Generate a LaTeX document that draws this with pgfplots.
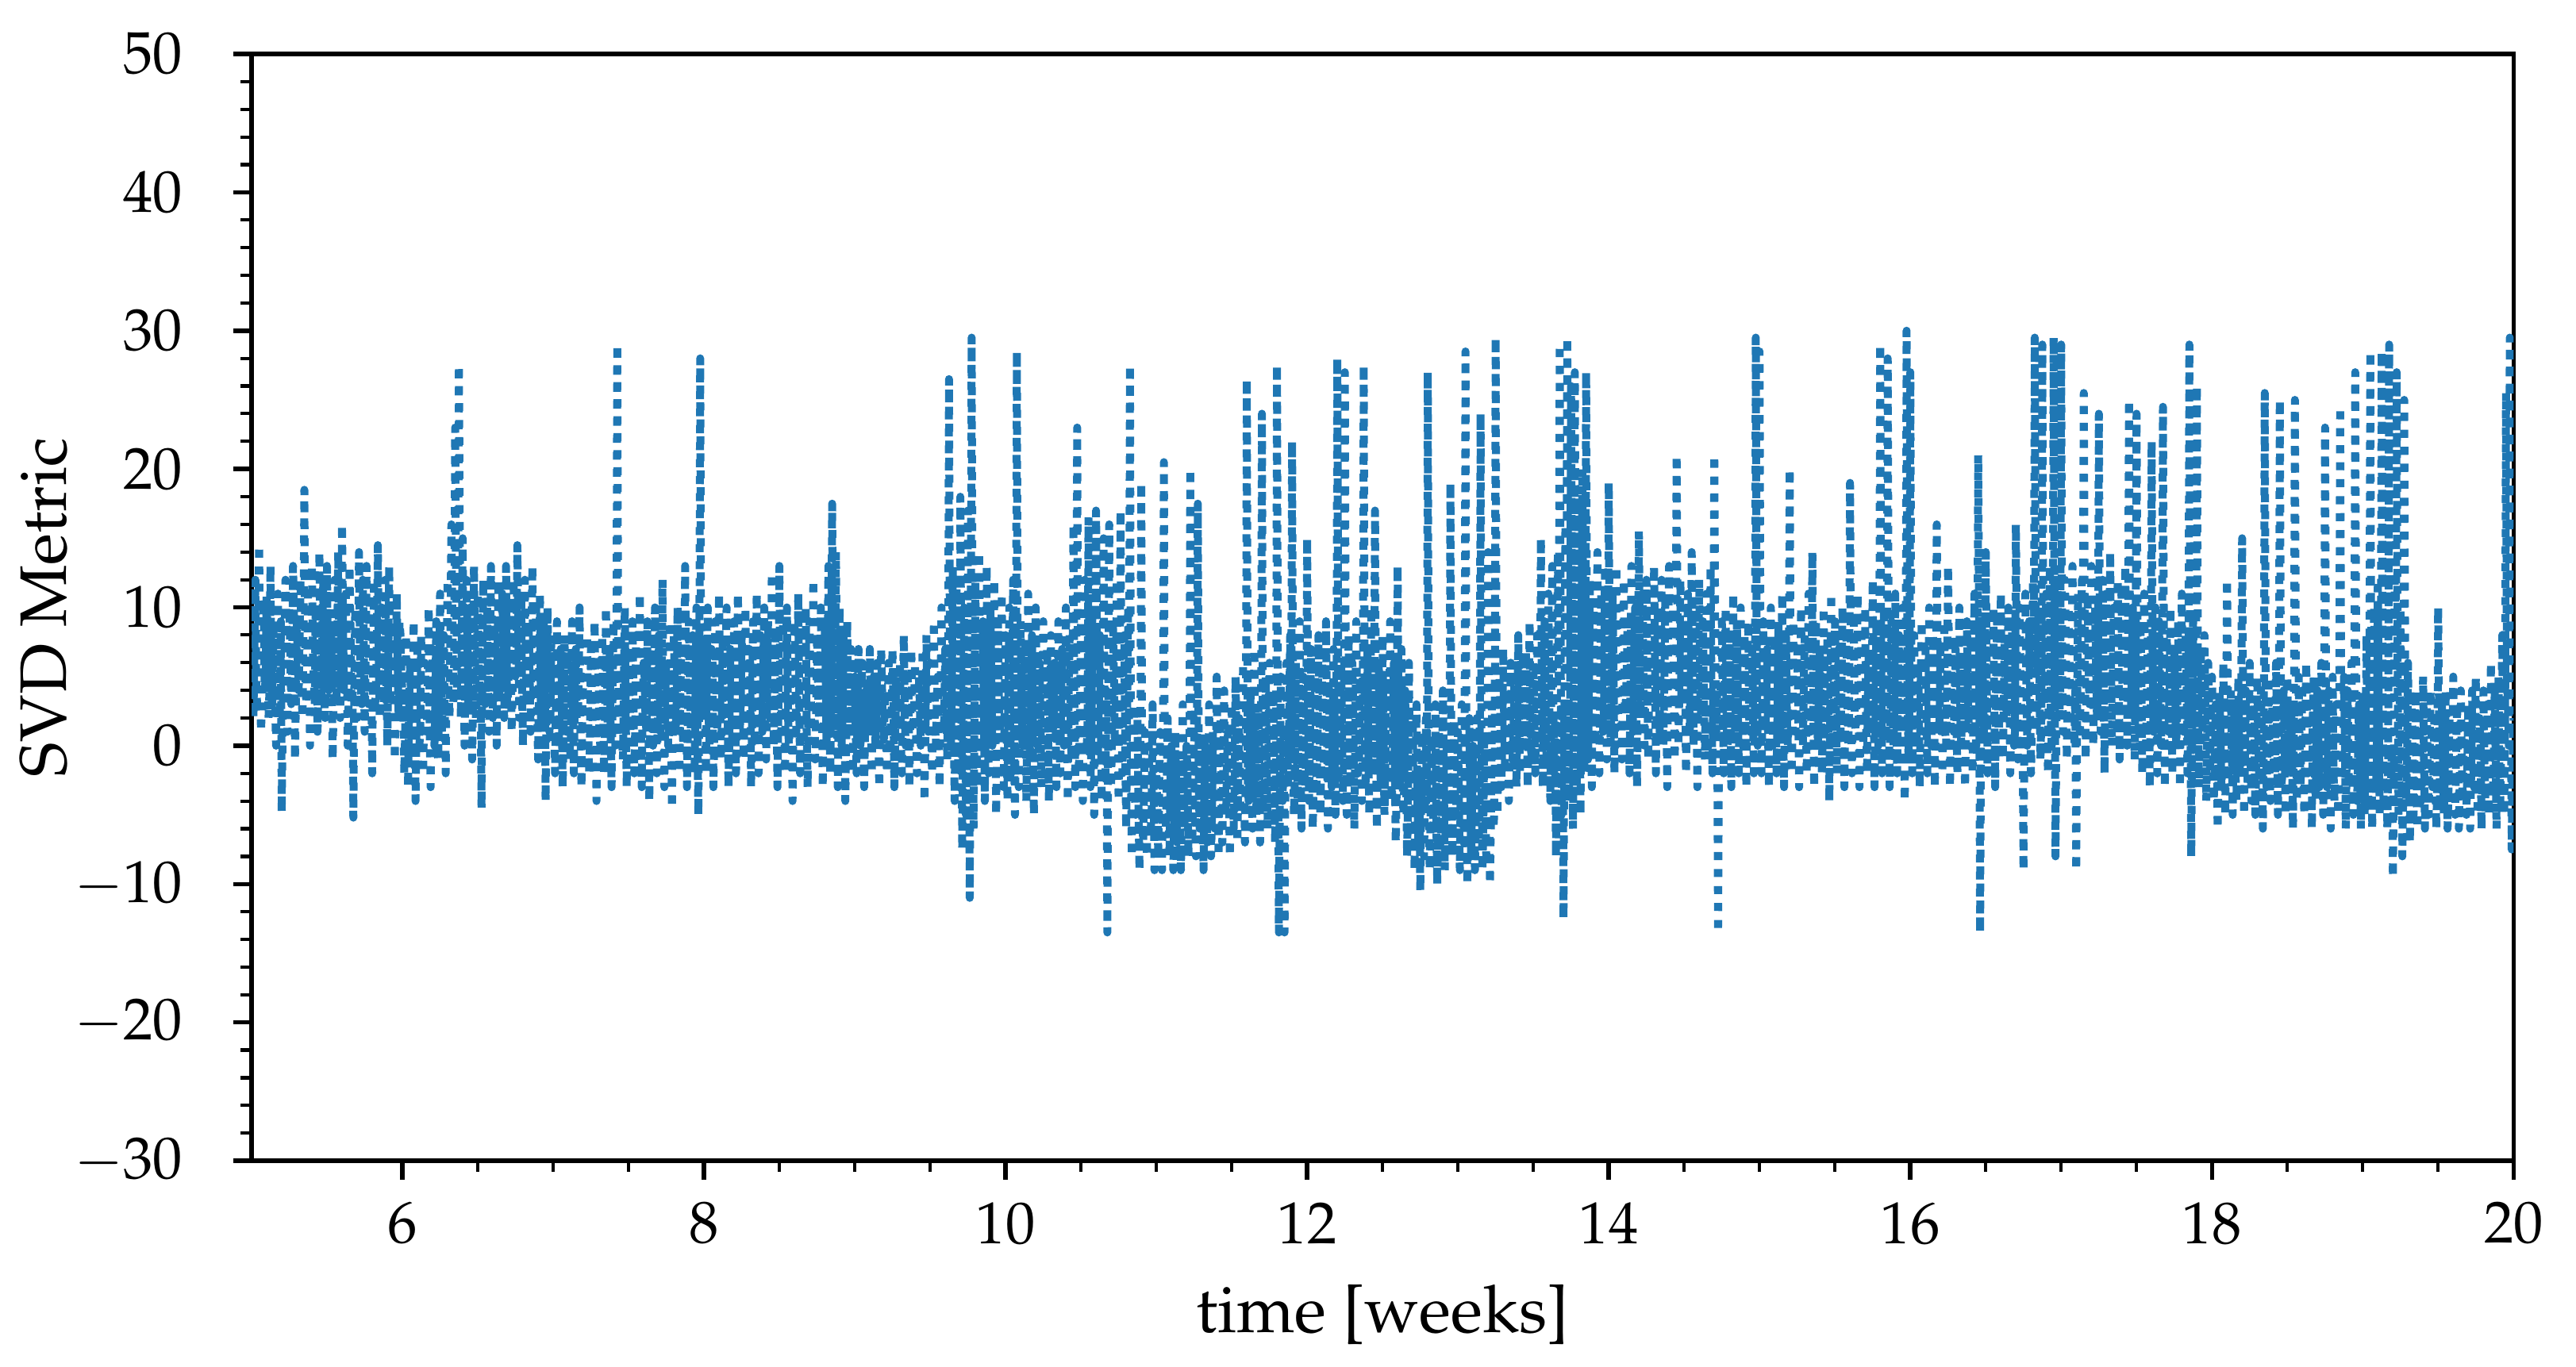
\documentclass[border=0pt]{standalone}
\usepackage[T1]{fontenc}
\usepackage{mathpazo}
\usepackage{pgfplots}
\usepackage{pgfplotstable}
\pgfplotsset{compat=1.18}
\definecolor{mplblue}{HTML}{1F77B4}
% SVD metric, one value every 0.00625 weeks from week 5 to week 20
\pgfplotstableread[row sep=\\]{
y\\
8\\ 5\\ 2\\ 7\\ 12\\ 4\\ 3\\ 8\\ 14.5\\ 6\\ 1\\ 3\\ 10\\ 9\\ 4\\ 5\\ 11\\ 7\\ 2\\ 4\\
13\\ 6\\ 3\\ 8\\ 9\\ 3\\ 0\\ 7\\ 11\\ 5\\ 2\\ 9\\ -4.8\\ 2\\ 6\\ 6\\ 12\\ 8\\ 1\\ 4\\
10\\ 7\\ 3\\ 5\\ 13\\ 9\\ -1\\ 3\\ 9\\ 6\\ 4\\ 8\\ 12\\ 4\\ 2\\ 7\\ 18.5\\ 5\\ 3\\ 6\\
11\\ 8\\ 0\\ 4\\ 13\\ 7\\ 5\\ 3\\ 10\\ 9\\ 1\\ 5\\ 14\\ 6\\ 3\\ 8\\ 12\\ 4\\ 2\\ 7\\
13\\ 5\\ 4\\ 9\\ 9\\ 6\\ -1\\ 3\\ 12\\ 7\\ 3\\ 8\\ 14\\ 4\\ 2\\ 6\\ 16\\ 9\\ 4\\ 5\\
11\\ 7\\ 0\\ 3\\ 13\\ 8\\ 3\\ 6\\ -5.2\\ 4\\ 10\\ 9\\ 2\\ 5\\ 14\\ 7\\ 4\\ 3\\ 12\\ 8\\
1\\ 6\\ 13\\ 4\\ 3\\ 9\\ 11\\ 5\\ -2\\ 7\\ 12\\ 3\\ 4\\ 8\\ 14.5\\ 6\\ 2\\ 4\\ 10\\ 7\\
3\\ 9\\ 12\\ 5\\ 0\\ 6\\ 13\\ 3\\ 5\\ 8\\ 9\\ 7\\ -1\\ 4\\ 11\\ 6\\ 2\\ 9\\ 8\\ 5\\
4\\ 3\\ -2\\ 1\\ 8\\ 5\\ -3\\ 2\\ 6\\ 4\\ -1\\ 0\\ 9\\ 3\\ -4\\ 2\\ 7\\ 5\\ 0\\ 1\\
8\\ 4\\ -2\\ 2\\ 6\\ 3\\ 1\\ 5\\ 10\\ 1\\ -3\\ 4\\ 7\\ 2\\ 0\\ 3\\ 9\\ 0\\ -1\\ 4\\
11\\ 5\\ 1\\ 6\\ 8\\ 3\\ -2\\ 7\\ 12\\ 4\\ 2\\ 8\\ 16\\ 10\\ 3\\ 6\\ 23\\ 12\\ 4\\ 9\\
27.5\\ 14\\ 2\\ 7\\ 15\\ 5\\ 0\\ 6\\ 12\\ 8\\ 3\\ 4\\ 10\\ 6\\ -1\\ 3\\ 13\\ 7\\ 2\\ 5\\
11\\ 6\\ 4\\ 4\\ -4.5\\ 8\\ 12\\ 5\\ 3\\ 7\\ 10\\ 3\\ 1\\ 6\\ 13\\ 8\\ 2\\ 4\\ 9\\ 5\\
0\\ 7\\ 12\\ 4\\ 4\\ 6\\ 11\\ 8\\ 2\\ 5\\ 13\\ 3\\ 3\\ 7\\ 10\\ 6\\ 1\\ 4\\ 12\\ 8\\
5\\ 6\\ 14.5\\ 9\\ 2\\ 5\\ 11\\ 4\\ 0\\ 7\\ 12\\ 6\\ 3\\ 3\\ 9\\ 5\\ 1\\ 8\\ 13\\ 4\\
4\\ 6\\ 10\\ 3\\ -1\\ 5\\ 11\\ 2\\ 2\\ 4\\ 9\\ 6\\ -4\\ 3\\ 10\\ 5\\ 1\\ 2\\ 8\\ 4\\
6\\ 2\\ -2\\ 4\\ 9\\ 1\\ 0\\ 3\\ 7\\ 5\\ -3\\ 0\\ 8\\ 3\\ 1\\ 4\\ 6\\ 2\\ -1\\ 1\\
9\\ 3\\ -2\\ 5\\ 7\\ 2\\ 2\\ 4\\ 10\\ 1\\ -3\\ 3\\ 5\\ 2\\ 0\\ 4\\ 8\\ 3\\ -2\\ 0\\
7\\ 4\\ 1\\ 2\\ 9\\ 3\\ -4\\ 5\\ 6\\ 1\\ 0\\ 3\\ 8\\ 4\\ -2\\ 2\\ 10\\ 5\\ 1\\ 3\\
7\\ 1\\ -3\\ 4\\ 9\\ 3\\ 0\\ 2\\ 29\\ 5\\ 2\\ 3\\ 8\\ 1\\ -1\\ 4\\ 10\\ 2\\ -3\\ 3\\
7\\ 4\\ 1\\ 2\\ 9\\ 5\\ -2\\ 1\\ 8\\ 3\\ 0\\ 4\\ 11\\ 2\\ -3\\ 3\\ 6\\ 5\\ 2\\ 1\\
9\\ 2\\ -4\\ 4\\ 7\\ 3\\ 0\\ 1\\ 10\\ 5\\ -2\\ 2\\ 8\\ 4\\ 1\\ 3\\ 12\\ 2\\ -3\\ 4\\
6\\ 3\\ 0\\ 1\\ 9\\ 4\\ -4.5\\ 2\\ 8\\ 5\\ 1\\ 3\\ 10\\ 1\\ -2\\ 4\\ 7\\ 2\\ 0\\ 3\\
13\\ 4\\ -3\\ 2\\ 9\\ 5\\ 1\\ 3\\ 8\\ 1\\ -2\\ 4\\ 10\\ 2\\ -5\\ 3\\ 28\\ 6\\ 2\\ 3\\
8\\ 3\\ -2\\ 5\\ 10\\ 2\\ 0\\ 4\\ 7\\ 6\\ -3\\ 1\\ 9\\ 4\\ 1\\ 3\\ 11\\ 5\\ -1\\ 2\\
8\\ 4\\ 2\\ 6\\ 10\\ 3\\ -3\\ 1\\ 7\\ 5\\ 0\\ 3\\ 9\\ 2\\ -2\\ 4\\ 11\\ 6\\ 1\\ 3\\
8\\ 5\\ -1\\ 2\\ 10\\ 4\\ 2\\ 3\\ 7\\ 6\\ -3\\ 1\\ 9\\ 3\\ 0\\ 5\\ 11\\ 2\\ -2\\ 4\\
8\\ 3\\ 1\\ 6\\ 10\\ 2\\ -1\\ 4\\ 9\\ 5\\ 2\\ 3\\ 12.5\\ 7\\ 0\\ 4\\ 8\\ 2\\ -3\\ 3\\
13\\ 5\\ 1\\ 4\\ 9\\ 2\\ -2\\ 6\\ 10\\ 3\\ 0\\ 1\\ 7\\ 4\\ -4\\ 2\\ 9\\ 5\\ 1\\ 3\\
11\\ 4\\ -2\\ 2\\ 8\\ 6\\ 0\\ 3\\ 10\\ 1\\ -3\\ 4\\ 9\\ 5\\ 1\\ 3\\ 12\\ 6\\ -1\\ 2\\
8\\ 4\\ 2\\ 3\\ 10\\ 5\\ -3\\ 2\\ 9\\ 6\\ 0\\ 4\\ 13\\ 3\\ -2\\ 5\\ 17.5\\ 8\\ 1\\ 4\\
14\\ 6\\ -3\\ 3\\ 10\\ 4\\ 0\\ 2\\ 8\\ 5\\ -4\\ 1\\ 9\\ 3\\ 1\\ 4\\ 7\\ 2\\ -2\\ 3\\
5\\ 1\\ -2\\ 3\\ 7\\ 2\\ 0\\ 4\\ 6\\ 0\\ -3\\ 2\\ 4\\ 3\\ 1\\ 1\\ 7\\ 2\\ -2\\ 4\\
5\\ 2\\ 0\\ 3\\ 6\\ 1\\ -3\\ 2\\ 7\\ 4\\ 1\\ 0\\ 4\\ 2\\ -2\\ 3\\ 6\\ 1\\ 0\\ 2\\
7\\ 3\\ -3\\ 1\\ 5\\ 2\\ 1\\ 4\\ 6\\ 0\\ -2\\ 3\\ 8\\ 2\\ 0\\ 1\\ 5\\ 4\\ -3\\ 2\\
7\\ 2\\ 1\\ 3\\ 6\\ 1\\ -2\\ 0\\ 5\\ 3\\ 0\\ 2\\ 7\\ 4\\ -4\\ 1\\ 8\\ 3\\ 1\\ 2\\
6\\ 1\\ -2\\ 4\\ 9\\ 2\\ 0\\ 3\\ 5\\ 0\\ -3\\ 3\\ 10\\ 5\\ 1\\ 2\\ 7\\ 4\\ -1\\ 3\\
26.5\\ 6\\ 0\\ 4\\ 13\\ 2\\ -4\\ 5\\ 12\\ 3\\ -2\\ 0\\ 18\\ 6\\ -7.5\\ 1\\ 10\\ 4\\ -5\\ 2\\
17\\ 3\\ -11\\ 5\\ 29.5\\ 8\\ -6\\ 2\\ 12\\ 4\\ -3\\ 1\\ 14\\ 5\\ 0\\ 3\\ 9\\ 2\\ -4\\ 4\\
13\\ 3\\ -2\\ 1\\ 10\\ 4\\ 0\\ 2\\ 12\\ 5\\ -5\\ 0\\ 9\\ 3\\ 1\\ 4\\ 11\\ 1\\ -3\\ 3\\
8\\ 2\\ -4\\ 4\\ 10\\ 1\\ -2\\ 3\\ 12\\ 0\\ -5\\ 5\\ 28.5\\ 2\\ -3\\ 1\\ 9\\ 3\\ 0\\ 2\\
7\\ 4\\ -4\\ 1\\ 11\\ 3\\ -1\\ 2\\ 8\\ 0\\ -5\\ 3\\ 10\\ 4\\ 0\\ 1\\ 6\\ 2\\ -3\\ 3\\
9\\ 1\\ -2\\ 3\\ 7\\ 2\\ -4\\ 0\\ 8\\ 4\\ 1\\ 2\\ 6\\ 3\\ -3\\ 1\\ 9\\ 2\\ -2\\ 4\\
7\\ 3\\ 0\\ 1\\ 10\\ 2\\ -4\\ 4\\ 8\\ 2\\ -1\\ 5\\ 16\\ 3\\ -3\\ 6\\ 23\\ 1\\ -2\\ 3\\
9\\ 4\\ -4\\ 2\\ 12\\ 5\\ 0\\ 1\\ 16.5\\ 3\\ -3\\ 0\\ 10\\ 4\\ -5\\ 2\\ 17\\ 6\\ -1\\ 3\\
8\\ 2\\ -4\\ 5\\ 15\\ 1\\ -2\\ 4\\ -13.5\\ 3\\ 16\\ 0\\ -3\\ 2\\ 9\\ 5\\ 0\\ 3\\ 12\\ 1\\
-4\\ 4\\ 17\\ 2\\ -2\\ 6\\ 8\\ 0\\ -6\\ 3\\ 10\\ 1\\ 27.5\\ -2\\ -8\\ 0\\ 3\\ -3\\ -5\\ -1\\
2\\ -4\\ -9\\ -2\\ 19\\ -5\\ -7\\ -3\\ 1\\ -6\\ -8\\ -2\\ 0\\ -4\\ -6\\ -5\\ 3\\ -3\\ -9\\ -4\\
-2\\ -4\\ -8\\ -3\\ 1\\ -5\\ -9\\ -2\\ 20.5\\ -4\\ -6\\ -3\\ 2\\ -5\\ -8\\ -2\\ 0\\ -4\\ -9\\ -5\\
1\\ -3\\ -7\\ -4\\ -1\\ -2\\ -9\\ -5\\ 3\\ -3\\ -6\\ -4\\ 0\\ -2\\ -8\\ -5\\ 20\\ -3\\ -7\\ -4\\
2\\ -5\\ -8\\ -2\\ 17.5\\ -3\\ -6\\ -4\\ 1\\ -5\\ -9\\ -3\\ 0\\ -2\\ -7\\ -4\\ 3\\ -3\\ -8\\ -5\\
1\\ -2\\ -6\\ -4\\ 5\\ -3\\ -8\\ -1\\ 2\\ -4\\ -7\\ -2\\ 4\\ -3\\ -5\\ -1\\ 1\\ -4\\ -8\\ -2\\
3\\ -1\\ -6\\ -3\\ 5\\ 0\\ -7\\ -2\\ 2\\ -4\\ -5\\ -1\\ 6\\ -2\\ -7\\ 0\\ 26.5\\ -3\\ -4\\ -1\\
4\\ -2\\ -6\\ 0\\ 7\\ -3\\ -5\\ -1\\ 3\\ 1\\ -7\\ -2\\ 24\\ 0\\ -4\\ -3\\ 5\\ -1\\ -6\\ 1\\
6\\ -2\\ -5\\ 0\\ 4\\ -1\\ -7\\ -3\\ 27.5\\ 0\\ -13.5\\ -4\\ 5\\ -2\\ -4\\ 1\\ -13.5\\ -1\\ 6\\ 0\\
-3\\ 2\\ 8\\ -1\\ 22\\ 1\\ -5\\ -2\\ 6\\ 0\\ -4\\ 2\\ 9\\ -1\\ -6\\ 1\\ 5\\ -2\\ -3\\ 0\\
15\\ 2\\ -4\\ 0\\ 7\\ 1\\ -6\\ -1\\ 5\\ 2\\ -3\\ 0\\ 8\\ 3\\ -5\\ -1\\ 6\\ 1\\ -2\\ 0\\
9\\ 2\\ -6\\ -1\\ 4\\ 1\\ -3\\ 0\\ 7\\ 2\\ -5\\ -1\\ 28\\ 3\\ -2\\ 0\\ 6\\ 1\\ -4\\ -1\\
27\\ 2\\ -5\\ 0\\ 8\\ 1\\ -3\\ -1\\ 6\\ 2\\ -6\\ 0\\ 9\\ 3\\ -2\\ -1\\ 5\\ 1\\ -4\\ 0\\
27.5\\ 3\\ -3\\ 1\\ 7\\ -1\\ -5\\ 2\\ 10\\ 0\\ -2\\ 3\\ 17\\ 1\\ -6\\ -1\\ 6\\ 2\\ -3\\ 0\\
8\\ 1\\ -5\\ -1\\ 5\\ 2\\ -2\\ 0\\ 9\\ -2\\ -4\\ 1\\ 6\\ -1\\ -7\\ -3\\ 13\\ 0\\ -3\\ -2\\
7\\ -1\\ -5\\ -3\\ 4\\ -2\\ -8\\ -4\\ 6\\ -3\\ -6\\ -2\\ 2\\ -5\\ -9\\ -3\\ 3\\ -4\\ -7\\ -2\\
-10.5\\ -4\\ 1\\ -5\\ -8\\ -3\\ 2\\ -4\\ 27\\ -2\\ -9\\ -5\\ 0\\ -4\\ -6\\ -3\\ 3\\ -5\\ -10\\ -4\\
1\\ -3\\ -7\\ -4\\ 4\\ -2\\ -9\\ -5\\ 0\\ -3\\ -6\\ -4\\ 19\\ -2\\ -8\\ -3\\ 2\\ -4\\ -5\\ -2\\
1\\ -4\\ -9\\ -3\\ 3\\ -5\\ -7\\ -2\\ 28.5\\ -4\\ -10\\ -5\\ 2\\ -3\\ -8\\ -4\\ 0\\ -2\\ -9\\ -5\\
2\\ -3\\ -7\\ -4\\ 24\\ -2\\ -9\\ -5\\ 1\\ -3\\ -8\\ -4\\ 14\\ -2\\ -10\\ -5\\ 3\\ -1\\ -6\\ -2\\
29.5\\ 2\\ -5\\ 1\\ 5\\ 3\\ -3\\ 0\\ 7\\ 2\\ -2\\ 1\\ 4\\ 3\\ -4\\ 0\\ 6\\ 2\\ -1\\ 1\\
5\\ 2\\ -3\\ 3\\ 8\\ 1\\ -2\\ 2\\ 6\\ 4\\ 0\\ 1\\ 7\\ 3\\ -3\\ 2\\ 9\\ 1\\ -1\\ 3\\
6\\ 2\\ -2\\ 4\\ 8\\ 3\\ 0\\ 1\\ 15\\ 5\\ -3\\ 2\\ 9\\ 3\\ -1\\ 4\\ 11\\ 2\\ -4\\ 3\\
13\\ 4\\ -2\\ 2\\ -8\\ 3\\ 14\\ 5\\ 29\\ 6\\ -5\\ 3\\ -12.5\\ 4\\ 16\\ 5\\ 29.5\\ 7\\ -4\\ 3\\
26\\ 6\\ -6\\ 4\\ 27\\ 7\\ -3\\ 3\\ 18\\ 5\\ -5\\ 4\\ 20\\ 6\\ -2\\ 3\\ 27\\ 5\\ -1\\ 4\\
12\\ 3\\ -3\\ 5\\ 10\\ 4\\ 0\\ 6\\ 14\\ 3\\ -2\\ 5\\ 11\\ 4\\ 1\\ 3\\ 13\\ 5\\ -1\\ 4\\
19\\ 5\\ 0\\ 4\\ 11\\ 6\\ -2\\ 3\\ 13\\ 7\\ 2\\ 5\\ 10\\ 4\\ -1\\ 6\\ 12\\ 3\\ 3\\ 5\\
9\\ 6\\ -2\\ 4\\ 13\\ 3\\ 1\\ 7\\ 10\\ 5\\ -3\\ 4\\ 15.5\\ 6\\ 2\\ 5\\ 11\\ 3\\ 0\\ 7\\
12\\ 4\\ -1\\ 6\\ 9\\ 5\\ 3\\ 3\\ 13\\ 7\\ -2\\ 4\\ 10\\ 5\\ 1\\ 6\\ 12\\ 3\\ 0\\ 5\\
11\\ 4\\ -3\\ 7\\ 13\\ 5\\ 2\\ 3\\ 10\\ 6\\ -1\\ 4\\ 21\\ 8\\ 0\\ 5\\ 12\\ 3\\ 3\\ 6\\
9\\ 5\\ -2\\ 3\\ 11\\ 6\\ 1\\ 4\\ 14\\ 7\\ 0\\ 5\\ 10\\ 3\\ -3\\ 6\\ 12\\ 4\\ 2\\ 5\\
9\\ 3\\ -1\\ 5\\ 11\\ 4\\ 0\\ 6\\ 13\\ 3\\ -2\\ 5\\ 21\\ 7\\ 1\\ 4\\ -13.5\\ 2\\ 3\\ 5\\
9\\ 3\\ -2\\ 4\\ 10\\ 2\\ 0\\ 5\\ 8\\ 3\\ -3\\ 4\\ 11\\ 2\\ 1\\ 5\\ 9\\ 3\\ -2\\ 4\\
10\\ 2\\ 0\\ 4\\ 8\\ 3\\ -3\\ 5\\ 9\\ 2\\ 1\\ 4\\ 7\\ 3\\ -2\\ 2\\ 29.5\\ 5\\ 0\\ 3\\
28.5\\ 4\\ -2\\ 2\\ 9\\ 5\\ 1\\ 3\\ 7\\ 1\\ -3\\ 4\\ 10\\ 2\\ 0\\ 5\\ 8\\ 3\\ -2\\ 2\\
9\\ 4\\ 1\\ 3\\ 11\\ 1\\ -3\\ 5\\ 8\\ 2\\ 0\\ 4\\ 20\\ 3\\ -2\\ 1\\ 9\\ 5\\ 1\\ 2\\
7\\ 3\\ -3\\ 4\\ 10\\ 2\\ 0\\ 5\\ 8\\ 3\\ -2\\ 1\\ 11\\ 4\\ 1\\ 2\\ 14\\ 3\\ -3\\ 5\\
9\\ 2\\ 0\\ 4\\ 7\\ 3\\ -2\\ 1\\ 10\\ 5\\ 1\\ 2\\ 8\\ 4\\ -4\\ 3\\ 11\\ 1\\ 0\\ 4\\
9\\ 3\\ -2\\ 5\\ 7\\ 2\\ 1\\ 4\\ 10\\ 1\\ -3\\ 3\\ 8\\ 5\\ 0\\ 2\\ 19\\ 4\\ -2\\ 3\\
9\\ 2\\ 1\\ 4\\ 11\\ 3\\ -3\\ 1\\ 8\\ 5\\ 0\\ 3\\ 10\\ 2\\ -2\\ 4\\ 7\\ 3\\ 1\\ 1\\
12\\ 4\\ -3\\ 2\\ 9\\ 5\\ 0\\ 3\\ 29\\ 6\\ -2\\ 2\\ 10\\ 4\\ 1\\ 3\\ 28\\ 5\\ -3\\ 2\\
9\\ 4\\ 0\\ 3\\ 11\\ 2\\ -2\\ 5\\ 8\\ 3\\ 1\\ 1\\ 10\\ 4\\ -4\\ 2\\ 30\\ 5\\ -1\\ 3\\
27\\ 5\\ -2\\ 2\\ 8\\ 4\\ 0\\ 1\\ 6\\ 3\\ -3\\ 5\\ 9\\ 2\\ 1\\ 4\\ 7\\ 3\\ -2\\ 1\\
10\\ 4\\ 0\\ 2\\ 8\\ 5\\ -3\\ 3\\ 16\\ 6\\ 1\\ 2\\ 7\\ 4\\ -2\\ 3\\ 9\\ 1\\ 0\\ 5\\
13\\ 6\\ -3\\ 2\\ 8\\ 4\\ 1\\ 3\\ 7\\ 1\\ -2\\ 5\\ 10\\ 2\\ 0\\ 4\\ 6\\ 3\\ -3\\ 1\\
9\\ 4\\ 1\\ 2\\ 8\\ 5\\ -2\\ 3\\ 11\\ 1\\ 0\\ 4\\ 21\\ 8\\ -13.5\\ 2\\ 9\\ 4\\ 1\\ 3\\
14\\ 5\\ -2\\ 2\\ 8\\ 4\\ 0\\ 1\\ 10\\ 3\\ -3\\ 5\\ 9\\ 2\\ 1\\ 4\\ 11\\ 3\\ -1\\ 2\\
8\\ 4\\ 2\\ 3\\ 10\\ 5\\ -2\\ 2\\ 9\\ 4\\ 0\\ 1\\ 16\\ 6\\ -1\\ 3\\ 10\\ 4\\ 2\\ 2\\
-9\\ 1\\ 11\\ 5\\ 0\\ 3\\ 9\\ 4\\ -2\\ 2\\ 12\\ 5\\ 29.5\\ 8\\ 1\\ 3\\ 10\\ 4\\ -1\\ 2\\
29\\ 9\\ 3\\ 4\\ 11\\ 3\\ -2\\ 5\\ 13\\ 2\\ 0\\ 4\\ 29.5\\ 8\\ -8\\ 2\\ 12\\ 5\\ 2\\ 4\\
29\\ 6\\ 1\\ 5\\ 12\\ 7\\ -1\\ 4\\ 10\\ 6\\ 2\\ 5\\ 13\\ 7\\ 0\\ 4\\ -9\\ 3\\ 11\\ 6\\
1\\ 5\\ 12\\ 7\\ 25.5\\ 8\\ -1\\ 5\\ 11\\ 6\\ 3\\ 4\\ 13\\ 7\\ 0\\ 5\\ 10\\ 6\\ 2\\ 4\\
24\\ 9\\ 1\\ 6\\ 12\\ 5\\ -2\\ 7\\ 11\\ 4\\ 3\\ 6\\ 14\\ 5\\ 0\\ 7\\ 10\\ 4\\ 2\\ 6\\
12\\ 5\\ -1\\ 7\\ 11\\ 4\\ 3\\ 6\\ 13\\ 5\\ 0\\ 7\\ 25\\ 8\\ 2\\ 6\\ 10\\ 4\\ -1\\ 5\\
24\\ 8\\ 1\\ 4\\ 9\\ 6\\ -2\\ 3\\ 11\\ 5\\ 0\\ 4\\ 8\\ 6\\ -3\\ 3\\ 22\\ 7\\ 1\\ 4\\
10\\ 5\\ -2\\ 3\\ 9\\ 4\\ 0\\ 6\\ 24.5\\ 7\\ -3\\ 3\\ 8\\ 5\\ 1\\ 4\\ 10\\ 3\\ -2\\ 5\\
7\\ 4\\ 0\\ 2\\ 9\\ 5\\ -3\\ 3\\ 11\\ 4\\ 1\\ 2\\ 8\\ 5\\ -2\\ 3\\ 29\\ 6\\ -8\\ 2\\
9\\ 4\\ 0\\ 2\\ 26\\ 7\\ -3\\ 3\\ 7\\ 4\\ 1\\ 2\\ 8\\ 3\\ -4\\ 1\\ 6\\ 3\\ -2\\ 2\\
5\\ 1\\ -4\\ -1\\ 3\\ 0\\ -6\\ -2\\ 4\\ 1\\ -3\\ -1\\ 6\\ 2\\ -5\\ 0\\ 12\\ 3\\ -2\\ -1\\
4\\ 0\\ -5\\ 1\\ 3\\ -2\\ -4\\ 0\\ 5\\ -1\\ -2\\ 2\\ 15\\ 4\\ -5\\ -1\\ 4\\ 0\\ -3\\ 1\\
6\\ -1\\ -4\\ 0\\ 3\\ 2\\ -5\\ -1\\ 5\\ 1\\ -2\\ -2\\ 4\\ 0\\ -6\\ 1\\ 25.5\\ 5\\ -3\\ 0\\
5\\ -1\\ -4\\ 1\\ 3\\ 0\\ -2\\ -2\\ 6\\ 1\\ -5\\ 0\\ 25\\ 6\\ -3\\ -1\\ 4\\ 1\\ -5\\ -2\\
5\\ 0\\ -2\\ 1\\ 3\\ -1\\ -6\\ 2\\ 25\\ 5\\ -4\\ -1\\ 5\\ 0\\ -3\\ 1\\ 4\\ -2\\ -5\\ 0\\
6\\ 1\\ -2\\ -1\\ 3\\ 0\\ -6\\ 2\\ 5\\ -1\\ -4\\ 1\\ 4\\ 0\\ -3\\ -2\\ 6\\ 1\\ -5\\ 0\\
23\\ 4\\ -3\\ -1\\ 4\\ 1\\ -6\\ 0\\ 5\\ -2\\ -4\\ 1\\ 3\\ -1\\ -5\\ 0\\ 24.5\\ 5\\ -2\\ -1\\
5\\ 1\\ -6\\ 0\\ 4\\ -2\\ -3\\ 1\\ 6\\ -1\\ -5\\ 0\\ 27\\ 6\\ -4\\ -1\\ 3\\ 0\\ -6\\ -2\\
4\\ 0\\ -5\\ 1\\ 8\\ -1\\ -4\\ 2\\ 28.5\\ 4\\ -6\\ 0\\ 10\\ 3\\ -3\\ -1\\ 12\\ 2\\ -5\\ 1\\
28.5\\ 5\\ -4\\ 0\\ 15\\ 3\\ -6\\ -1\\ 29\\ 6\\ -3\\ 0\\ -9.5\\ -2\\ 12\\ 4\\ 27\\ 6\\ -5\\ 0\\
10\\ 2\\ -8\\ -3\\ 25\\ 5\\ -4\\ -1\\ 6\\ 0\\ -7\\ -2\\ 3\\ -1\\ -5\\ 0\\ 4\\ -2\\ -6\\ -1\\
2\\ 0\\ -4\\ -2\\ 5\\ -1\\ -6\\ 0\\ 3\\ -2\\ -5\\ -1\\ 4\\ 0\\ -3\\ -2\\ 2\\ -1\\ -6\\ -3\\
10\\ 2\\ -4\\ -1\\ 3\\ 0\\ -5\\ -2\\ 4\\ -1\\ -6\\ -3\\ 2\\ 0\\ -3\\ -1\\ 5\\ -2\\ -5\\ -1\\
3\\ 0\\ -6\\ -2\\ 4\\ -1\\ -4\\ 0\\ 2\\ -3\\ -5\\ -1\\ 3\\ 0\\ -6\\ -2\\ 4\\ -1\\ -3\\ 0\\
5\\ -2\\ -5\\ -1\\ 2\\ 0\\ -6\\ -3\\ 4\\ -1\\ -4\\ 0\\ 3\\ -2\\ -5\\ -1\\ 6\\ 0\\ -3\\ -2\\
4\\ -1\\ -6\\ 0\\ 5\\ -2\\ -4\\ 1\\ 8\\ 0\\ -5\\ 2\\ 25.5\\ 5\\ 3\\ 0\\ 29.5\\ 6\\ -7.5\\ -2\\
2\\
}\svd
\begin{document}
\fontsize{12}{14}\selectfont
\begin{tikzpicture}
\begin{axis}[
  scale only axis,
  width=412.7pt, height=202pt,
  xmin=5, xmax=20, ymin=-30, ymax=50,
  xtick={6,8,...,20}, ytick={-30,-20,...,50},
  minor x tick num=3, minor y tick num=4,
  tick align=outside, tick pos=left,
  major tick length=3.4pt, minor tick length=2pt,
  every tick/.style={black, line width=0.8pt},
  every minor tick/.style={black, line width=0.6pt},
  axis line style={black, line width=0.8pt},
  tick label style={font=\fontsize{10.8}{13}\selectfont},
  y tick label style={xshift=-5pt},
  label style={font=\fontsize{12}{14}\selectfont},
  xlabel={time [weeks]},
  xlabel style={yshift=0.9pt},
  ylabel={SVD Metric},
  ylabel style={at={(axis description cs:0,0.5)}, anchor=south, yshift=29.3pt},
]
\addplot[mplblue, line width=1.45pt, dash pattern=on 1.45pt off 1.65pt, line join=round, line cap=butt, no markers]
  table[x expr=5+\coordindex*0.00625, y=y] {\svd};
\end{axis}
\pgfresetboundingbox
\path[use as bounding box] ([shift={(-45.9pt,-37.5pt)}]current axis.south west) rectangle ([shift={(11.4pt,9.85pt)}]current axis.north east);
\end{tikzpicture}
\end{document}
